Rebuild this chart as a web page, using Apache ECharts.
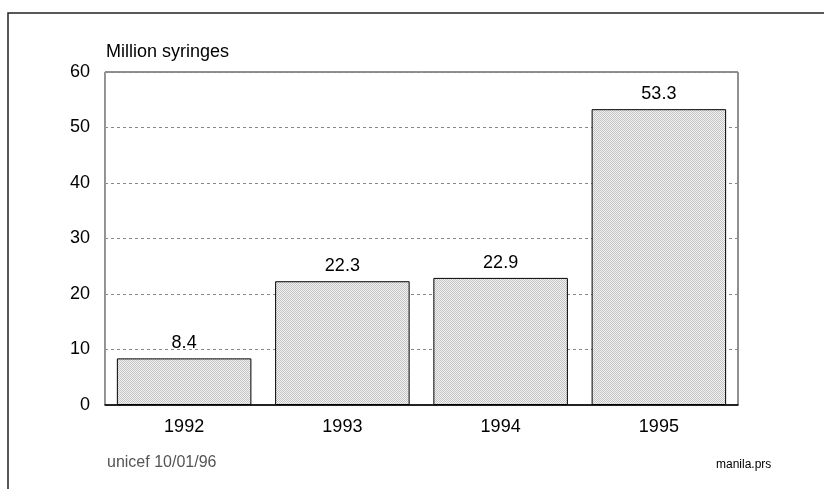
<!DOCTYPE html>
<html>
<head>
<meta charset="utf-8">
<script src="https://cdn.jsdelivr.net/npm/echarts@6/dist/echarts.min.js"></script>
<style>
html,body{margin:0;padding:0;background:#fff;}
#main{width:824px;height:489px;}
</style>
</head>
<body>
<div id="main"></div>
<script>
var years = ['1992', '1993', '1994', '1995'];
var syringes = [8.4, 22.3, 22.9, 53.3];
var yTicks = [0, 10, 20, 30, 40, 50, 60];

// dotted grey fill like the old printout
var pat = document.createElement('canvas');
pat.width = 2; pat.height = 2;
var pc = pat.getContext('2d');
pc.fillStyle = '#f2f2f2'; pc.fillRect(0, 0, 2, 2);
pc.fillStyle = '#c4c4c4'; pc.fillRect(0, 0, 1, 1); pc.fillRect(1, 1, 1, 1);

var font = 'Liberation Sans, Arial, sans-serif';
var myChart = echarts.init(document.getElementById('main'), null, {renderer: 'canvas'});

var option = {
    animation: false,
    backgroundColor: '#fff',
    grid: {left: 105, right: 86, top: 72, bottom: 84, show: true, borderColor: '#222', borderWidth: 1, backgroundColor: 'transparent'},
    graphic: [
        {type: 'polyline', shape: {points: [[8, 500], [8, 13], [830, 13]]}, style: {stroke: '#222', lineWidth: 1.5, fill: null}},
        {type: 'text', left: 106, top: 43, style: {text: 'Million syringes', font: '18px ' + font, fill: '#000'}},
        {type: 'text', left: 107, top: 455, style: {text: 'unicef 10/01/96', font: '16px ' + font, fill: '#555'}},
        {type: 'text', left: 716, top: 459, style: {text: 'manila.prs', font: '12px ' + font, fill: '#000'}}
    ],
    xAxis: {
        type: 'category',
        data: years,
        axisLine: {lineStyle: {color: '#000', width: 1.5}},
        axisTick: {show: false},
        axisLabel: {color: '#000', fontSize: 18, fontFamily: font, margin: 13}
    },
    yAxis: {
        type: 'value',
        min: yTicks[0],
        max: yTicks[yTicks.length - 1],
        interval: 10,
        axisLine: {show: true, lineStyle: {color: '#999'}},
        axisTick: {show: false},
        axisLabel: {color: '#000', fontSize: 18, fontFamily: font, margin: 15},
        splitLine: {lineStyle: {color: '#888', type: [3, 3]}}
    },
    series: [{
        type: 'bar',
        data: syringes,
        barWidth: '85%',
        itemStyle: {color: {image: pat, repeat: 'repeat'}, borderColor: '#000', borderWidth: 1},
        label: {show: true, position: 'top', distance: 6, color: '#000', fontSize: 18, fontFamily: font}
    }]
};
myChart.setOption(option);
</script>
</body>
</html>
